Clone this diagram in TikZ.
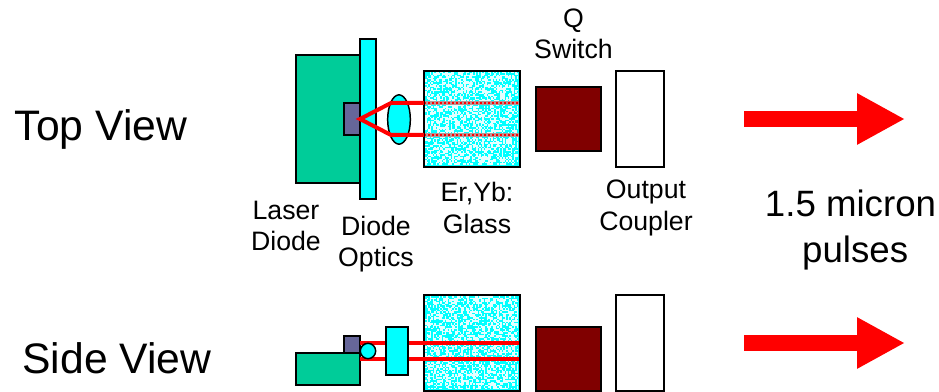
\documentclass[tikz,border=0pt]{standalone}
\usepackage{fontspec}
\setmainfont{Liberation Sans}
\usetikzlibrary{calc,arrows.meta,shapes.geometric}
\definecolor{diodegreen}{RGB}{0,204,153}
\definecolor{diodepurple}{RGB}{102,102,153}
\definecolor{opticscyan}{RGB}{0,255,255}
\definecolor{switchred}{RGB}{128,0,0}
\tikzset{
  part/.style={rectangle, draw=black, line width=1.1pt, inner sep=0pt, outer sep=0pt},
  greenpart/.style={part, fill=diodegreen},
  purplepart/.style={part, fill=diodepurple},
  cyanpart/.style={part, fill=opticscyan},
  switchpart/.style={part, fill=switchred, minimum width=48.5pt, minimum height=48pt},
  couplerpart/.style={part, fill=white, minimum width=36pt, minimum height=72pt},
  glasspart/.style={part, minimum width=72pt, minimum height=72pt},
  speck/.style={white!90!opticscyan},
  beam/.style={line width=3pt, red},
  beamfaint/.style={line width=3pt, red!15!gray!70},
  beamdots/.style={line width=1.2pt, red, dash pattern=on 1.2pt off 1.8pt},
  outarrow/.style={line width=12pt, red, -{Triangle[length=36pt, width=36pt]}},
  biglabel/.style={font=\fontsize{32}{34}\selectfont, inner sep=0pt},
  midlabel/.style={font=\fontsize{27.5}{34.5}\selectfont, inner sep=0pt, align=center},
  smalllabel/.style={font=\fontsize{20}{23.5}\selectfont, inner sep=0pt, align=center},
}
\begin{document}
\begin{tikzpicture}[x=0.75pt, y=-0.75pt]
  \useasboundingbox (0,0) rectangle (939,392);
  % top view
  \node[greenpart, minimum width=48pt, minimum height=96pt] (diodeT) at (328,119) {};
  \node[purplepart, minimum width=12pt, minimum height=24pt] (chipT) at (352,119) {};
  \node[glasspart] (glassT) at (472,119) {};
  \pgfmathsetseed{7}
  \coordinate (src) at (360,119);
  \coordinate (lensA) at (391,103);
  \coordinate (lensB) at (391,135);
  \coordinate (entA) at (424,103);
  \coordinate (entB) at (424,135);
  \coordinate (extA) at (519,103);
  \coordinate (extB) at (519,135);
  \fill[opticscyan] (glassT.south west) rectangle (glassT.north east);
  \foreach \k in {1,...,2600} {
    \pgfmathtruncatemacro{\cx}{rnd*62}
    \pgfmathtruncatemacro{\cy}{rnd*62}
    \fill[speck] (425+1.5*\cx,72+1.5*\cy) rectangle +(1.5,1.5);
  }
  \draw[beamfaint] (entA) -- (extA);
  \draw[beamfaint] (entB) -- (extB);
  \draw[beamdots] (entA) -- (extA);
  \draw[beamdots] (entB) -- (extB);
  \draw[part, fill=none] (glassT.south west) rectangle (glassT.north east);
  \node[cyanpart, minimum width=12pt, minimum height=120pt] (plateT) at (368,119) {};
  \node[cyanpart, ellipse, minimum width=17pt, minimum height=37pt] (lensT) at (399,119.5) {};
  \draw[beam] (entA) -- (lensA) -- (src) -- (lensB) -- (entB);
  \node[switchpart] (switchT) at (568.5,119) {};
  \node[couplerpart] (couplerT) at (640,119) {};
  \coordinate (arrowTa) at (744,119);
  \coordinate (arrowTb) at (905,119);
  \draw[outarrow] (arrowTa) -- (arrowTb);
  % side view
  \node[greenpart, minimum width=48pt, minimum height=24pt] (diodeS) at (328,369) {};
  \node[purplepart, minimum width=12pt, minimum height=13pt] (chipS) at (352,344.5) {};
  \node[glasspart] (glassS) at (472,343) {};
  \fill[opticscyan] (glassS.south west) rectangle (glassS.north east);
  \foreach \k in {1,...,2600} {
    \pgfmathtruncatemacro{\cx}{rnd*62}
    \pgfmathtruncatemacro{\cy}{rnd*62}
    \fill[speck] (425+1.5*\cx,296+1.5*\cy) rectangle +(1.5,1.5);
  }
  \draw[part, fill=none] (glassS.south west) rectangle (glassS.north east);
  \coordinate (srcA) at (360,343);
  \coordinate (srcB) at (360,359);
  \coordinate (extC) at (519,343);
  \coordinate (extD) at (519,359);
  \draw[beam] (srcA) -- (extC);
  \draw[beam] (srcB) -- (extD);
  \node[cyanpart, circle, minimum size=11.5pt] (lensS) at (368,351) {};
  \node[cyanpart, minimum width=16.5pt, minimum height=36pt] (plateS) at (397,351) {};
  \node[switchpart] (switchS) at (568.5,359) {};
  \node[couplerpart] (couplerS) at (640,343) {};
  \coordinate (arrowSa) at (744,343);
  \coordinate (arrowSb) at (905,343);
  \draw[outarrow] (arrowSa) -- (arrowSb);
  % labels
  \node[biglabel] (topview) at (101,129) {Top View};
  \node[biglabel] (sideview) at (117,358) {Side View};
  \node[midlabel] (pulses) at (850.5,230) {1.5 micron\\\hspace{7pt}pulses};
  \node[smalllabel] (qlabel) at (573.5,34) {Q\\Switch};
  \node[smalllabel] (glasslabel) at (477,208) {Er,Yb:\\Glass};
  \node[smalllabel] (couplerlabel) at (646,208) {Output\\Coupler};
  \node[smalllabel] (diodelabel) at (286,226) {Laser\\Diode};
  \node[smalllabel] (opticslabel) at (376,244) {Diode\\Optics};
\end{tikzpicture}
\end{document}
